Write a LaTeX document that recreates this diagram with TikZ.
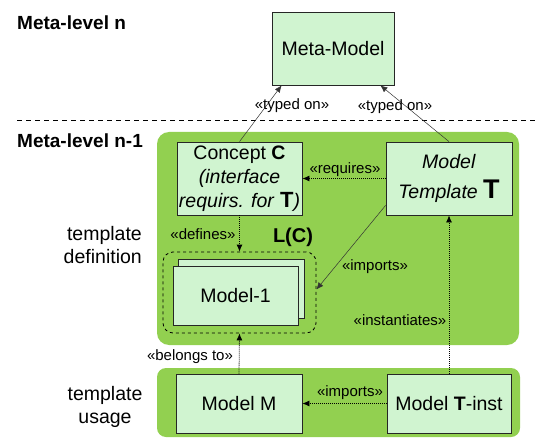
\documentclass[tikz,border=0pt]{standalone}
\usepackage{fontspec}
\setmainfont{Liberation Sans}
\usetikzlibrary{arrows.meta,calc}
\definecolor{zonegreen}{RGB}{146,208,80}
\definecolor{boxgreen}{RGB}{208,244,208}
\begin{document}
\begin{tikzpicture}[x=1pt,y=-1pt,
  zone/.style={fill=zonegreen, draw=none, rounded corners=12pt, inner sep=0pt},
  box/.style={draw=black!85, fill=boxgreen, line width=0.8pt, align=center, inner sep=0pt,
    font=\fontsize{19.5}{24}\selectfont},
  lbl/.style={font=\fontsize{15}{17}\selectfont, inner sep=0pt},
  side/.style={font=\fontsize{19.5}{23}\selectfont, inner sep=0pt},
  head/.style={font=\fontsize{19}{22}\selectfont\bfseries, inner sep=0pt, anchor=west},
  solidarrow/.style={line width=0.5pt, draw=black!80, -{Latex[length=7pt,width=6pt]}},
  dotarrow/.style={line width=0.8pt, draw=black, dash pattern=on 1pt off 1pt, -{Latex[length=7pt,width=6pt]}}
]
\useasboundingbox (0,0) rectangle (537,438);

% zones
\node[zone, minimum width=362pt, minimum height=213pt] (zone1) at (338,238.5) {};
\node[zone, minimum width=363pt, minimum height=69pt, rounded corners=9pt] (zone2) at (338.5,402.5) {};

% separator
\coordinate (sepL) at (17,121);
\coordinate (sepR) at (537,121);
\draw[line width=1pt, dash pattern=on 5pt off 4pt] (sepL) -- (sepR);

% headings
\node[head] (hn) at (17,23) {Meta-level n};
\node[head] (hn1) at (17,141) {Meta-level n-1};
\node[side, align=right, anchor=east] (tdef) at (142,245) {template\\definition};
\node[side, align=center] (tuse) at (105,407) {template\\usage};

% boxes
\node[box, minimum width=122pt, minimum height=73pt] (metamodel) at (333,48.5) {Meta-Model};
\node[box, minimum width=125pt, minimum height=73pt] (concept) at (239.5,178.5)
  {Concept \textbf{C}\\\textit{(interface}\\\textit{requirs. for }{\bfseries\fontsize{22}{24}\selectfont T}\textit{)}};
\node[box, minimum width=126pt, minimum height=73pt, font=\fontsize{19.5}{30}\selectfont] (template) at (449,178.5)
  {\textit{Model}\\\textit{Template }{\bfseries\fontsize{27}{30}\selectfont T}};

% L(C)
\node[draw=black, line width=0.8pt, dashed, rounded corners=10pt, minimum width=153pt, minimum height=81pt] (lc) at (239.5,292.5) {};
\node[font=\fontsize{20}{22}\selectfont\bfseries, inner sep=0pt] (lclabel) at (293,237) {L(C)};
\node[box, minimum width=126pt, minimum height=59pt] (model1back) at (241,288.5) {};
\node[box, minimum width=125pt, minimum height=59pt] (model1) at (235.5,295.5) {Model-1};

% usage boxes
\node[box, minimum width=126pt, minimum height=59pt] (modelM) at (239,403.5) {Model M};
\node[box, minimum width=124pt, minimum height=59pt] (tinst) at (449,403.5) {Model \textbf{T}-inst};

% connectors
\draw[solidarrow] (concept.north) -- ($(metamodel.south west)+(10,0)$);
\draw[solidarrow] (template.north) -- ($(metamodel.south east)+(-14,0)$);
\draw[dotarrow] (template.west) -- (concept.east);
\draw[dotarrow] (concept.south) -- (lc.north);
\draw[solidarrow] ($(template.south west)+(0,-10)$) -- ($(lc.east)+(0,-3)$);
\draw[dotarrow] (tinst.north) -- (template.south);
\draw[dotarrow] (modelM.north) -- (lc.south);
\draw[dotarrow] (tinst.west) -- (modelM.east);

% labels
\node[lbl] (l1) at (292,106) {«typed on»};
\node[lbl] (l2) at (395,107) {«typed on»};
\node[lbl] (l3) at (345,170) {«requires»};
\node[lbl] (l4) at (203,234) {«defines»};
\node[lbl] (l5) at (375,267) {«imports»};
\node[lbl] (l6) at (400,320) {«instantiates»};
\node[lbl] (l7) at (190,357) {«belongs to»};
\node[lbl] (l8) at (350,393) {«imports»};
\end{tikzpicture}
\end{document}
